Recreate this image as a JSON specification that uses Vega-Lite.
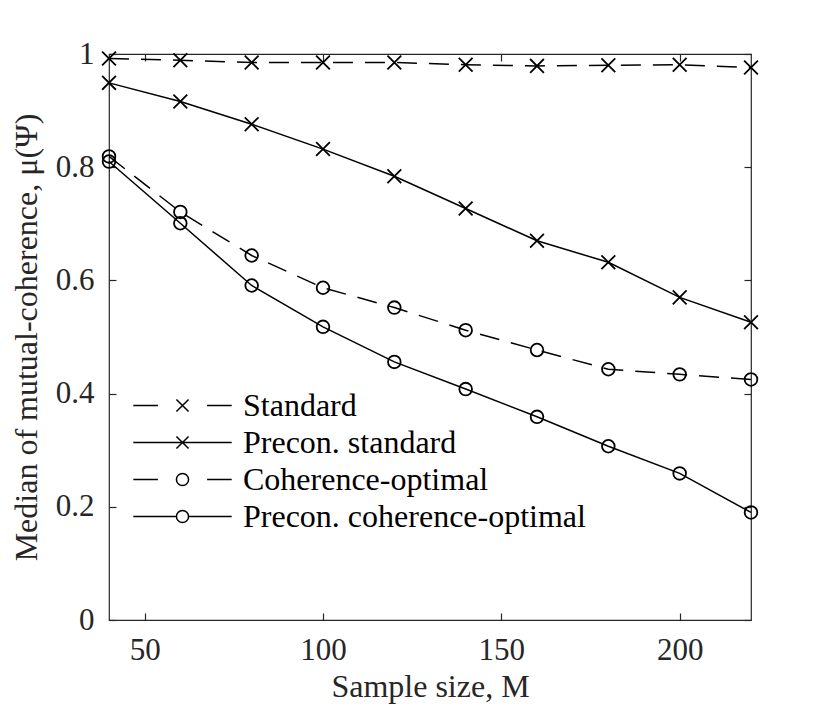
{
  "$schema": "https://vega.github.io/schema/vega-lite/v6.json",
  "width": 642,
  "height": 566,
  "autosize": {"type": "none"},
  "padding": {"left": 109, "top": 54, "right": 79, "bottom": 92},
  "background": "white",
  "config": {
    "view": {"stroke": "#262626", "strokeWidth": 1.2},
    "font": "Liberation Serif",
    "axis": {
      "domain": false,
      "grid": false,
      "ticks": true,
      "tickSize": -7,
      "tickColor": "#262626",
      "tickWidth": 1.2,
      "labelFont": "Liberation Serif",
      "labelFontSize": 31,
      "labelColor": "#262626",
      "titleFont": "Liberation Serif",
      "titleFontSize": 32,
      "titleFontWeight": "normal",
      "titleColor": "#262626"
    }
  },
  "data": {
    "values": [
      {"M": 40, "series": "Standard", "mu": 0.992},
      {"M": 60, "series": "Standard", "mu": 0.989},
      {"M": 80, "series": "Standard", "mu": 0.985},
      {"M": 100, "series": "Standard", "mu": 0.985},
      {"M": 120, "series": "Standard", "mu": 0.985},
      {"M": 140, "series": "Standard", "mu": 0.981},
      {"M": 160, "series": "Standard", "mu": 0.979},
      {"M": 180, "series": "Standard", "mu": 0.98},
      {"M": 200, "series": "Standard", "mu": 0.981},
      {"M": 220, "series": "Standard", "mu": 0.976},
      {"M": 40, "series": "Precon. standard", "mu": 0.949},
      {"M": 60, "series": "Precon. standard", "mu": 0.916},
      {"M": 80, "series": "Precon. standard", "mu": 0.876},
      {"M": 100, "series": "Precon. standard", "mu": 0.832},
      {"M": 120, "series": "Precon. standard", "mu": 0.784},
      {"M": 140, "series": "Precon. standard", "mu": 0.727},
      {"M": 160, "series": "Precon. standard", "mu": 0.67},
      {"M": 180, "series": "Precon. standard", "mu": 0.632},
      {"M": 200, "series": "Precon. standard", "mu": 0.57},
      {"M": 220, "series": "Precon. standard", "mu": 0.526},
      {"M": 40, "series": "Coherence-optimal", "mu": 0.819},
      {"M": 60, "series": "Coherence-optimal", "mu": 0.721},
      {"M": 80, "series": "Coherence-optimal", "mu": 0.644},
      {"M": 100, "series": "Coherence-optimal", "mu": 0.587},
      {"M": 120, "series": "Coherence-optimal", "mu": 0.552},
      {"M": 140, "series": "Coherence-optimal", "mu": 0.512},
      {"M": 160, "series": "Coherence-optimal", "mu": 0.477},
      {"M": 180, "series": "Coherence-optimal", "mu": 0.443},
      {"M": 200, "series": "Coherence-optimal", "mu": 0.434},
      {"M": 220, "series": "Coherence-optimal", "mu": 0.425},
      {"M": 40, "series": "Precon. coherence-optimal", "mu": 0.81},
      {"M": 60, "series": "Precon. coherence-optimal", "mu": 0.701},
      {"M": 80, "series": "Precon. coherence-optimal", "mu": 0.591},
      {"M": 100, "series": "Precon. coherence-optimal", "mu": 0.518},
      {"M": 120, "series": "Precon. coherence-optimal", "mu": 0.456},
      {"M": 140, "series": "Precon. coherence-optimal", "mu": 0.408},
      {"M": 160, "series": "Precon. coherence-optimal", "mu": 0.359},
      {"M": 180, "series": "Precon. coherence-optimal", "mu": 0.307},
      {"M": 200, "series": "Precon. coherence-optimal", "mu": 0.259},
      {"M": 220, "series": "Precon. coherence-optimal", "mu": 0.19}
    ]
  },
  "layer": [
    {
      "transform": [{"filter": "datum.series == 'Standard' || datum.series == 'Coherence-optimal'"}],
      "mark": {"type": "line", "color": "black", "strokeWidth": 1.5, "strokeDash": [20, 12]},
      "encoding": {
        "x": {
          "field": "M",
          "type": "quantitative",
          "scale": {"domain": [40, 220], "nice": false, "zero": false},
          "axis": {
            "orient": "bottom",
            "values": [50, 100, 150, 200],
            "title": "Sample size, M",
            "labelPadding": 22,
            "titlePadding": 6
          }
        },
        "y": {
          "field": "mu",
          "type": "quantitative",
          "scale": {"domain": [0, 1], "nice": false},
          "axis": {
            "orient": "left",
            "values": [0, 0.2, 0.4, 0.6, 0.8, 1],
            "format": "~g",
            "title": "Median of mutual-coherence, μ(Ψ)",
            "labelPadding": 22,
            "titlePadding": 12
          }
        },
        "detail": {"field": "series", "type": "nominal"}
      }
    },
    {
      "transform": [{"filter": "datum.series == 'Precon. standard' || datum.series == 'Precon. coherence-optimal'"}],
      "mark": {"type": "line", "color": "black", "strokeWidth": 1.5},
      "encoding": {
        "x": {"field": "M", "type": "quantitative", "axis": null},
        "y": {"field": "mu", "type": "quantitative", "axis": null},
        "detail": {"field": "series", "type": "nominal"}
      }
    },
    {
      "transform": [{"filter": "datum.series == 'Standard' || datum.series == 'Precon. standard'"}],
      "mark": {
        "type": "point",
        "shape": "M-1,-1L1,1M-1,1L1,-1",
        "size": 190,
        "filled": false,
        "stroke": "black",
        "strokeWidth": 1.8,
        "opacity": 1
      },
      "encoding": {
        "x": {"field": "M", "type": "quantitative", "axis": null},
        "y": {"field": "mu", "type": "quantitative", "axis": null}
      }
    },
    {
      "transform": [{"filter": "datum.series == 'Coherence-optimal' || datum.series == 'Precon. coherence-optimal'"}],
      "mark": {
        "type": "point",
        "shape": "circle",
        "size": 160,
        "filled": false,
        "stroke": "black",
        "strokeWidth": 1.8,
        "opacity": 1
      },
      "encoding": {
        "x": {
          "field": "M",
          "type": "quantitative",
          "axis": {"orient": "top", "values": [50, 100, 150, 200], "labels": false, "title": null}
        },
        "y": {
          "field": "mu",
          "type": "quantitative",
          "axis": {"orient": "right", "values": [0, 0.2, 0.4, 0.6, 0.8, 1], "labels": false, "title": null}
        }
      }
    },
    {
      "mark": {"type": "point", "filled": false, "opacity": 0},
      "encoding": {
        "x": {"field": "M", "type": "quantitative", "axis": null},
        "y": {"field": "mu", "type": "quantitative", "axis": null},
        "shape": {
          "field": "series",
          "type": "nominal",
          "scale": {
            "domain": ["Standard", "Precon. standard", "Coherence-optimal", "Precon. coherence-optimal"],
            "range": [
              "M-3,0L-1.5,0M1.5,0L3,0M-0.37,-0.37L0.37,0.37M-0.37,0.37L0.37,-0.37",
              "M-3,0L3,0M-0.37,-0.37L0.37,0.37M-0.37,0.37L0.37,-0.37",
              "M-3,0L-1.5,0M1.5,0L3,0M0.37,0A0.37,0.37,0,1,1,-0.37,0A0.37,0.37,0,1,1,0.37,0",
              "M-3,0L-0.37,0M0.37,0L3,0M0.37,0A0.37,0.37,0,1,1,-0.37,0A0.37,0.37,0,1,1,0.37,0"
            ]
          },
          "legend": {
            "orient": "none",
            "legendX": 56,
            "legendY": 334,
            "title": null,
            "padding": 0,
            "symbolSize": 1076,
            "symbolStrokeColor": "black",
            "symbolFillColor": "transparent",
            "symbolStrokeWidth": 1.5,
            "symbolOpacity": 1,
            "labelFont": "Liberation Serif",
            "labelFontSize": 32,
            "labelColor": "black",
            "labelOffset": 43,
            "labelLimit": 0,
            "rowPadding": 3
          }
        }
      }
    }
  ],
  "resolve": {"axis": {"x": "independent", "y": "independent"}}
}
